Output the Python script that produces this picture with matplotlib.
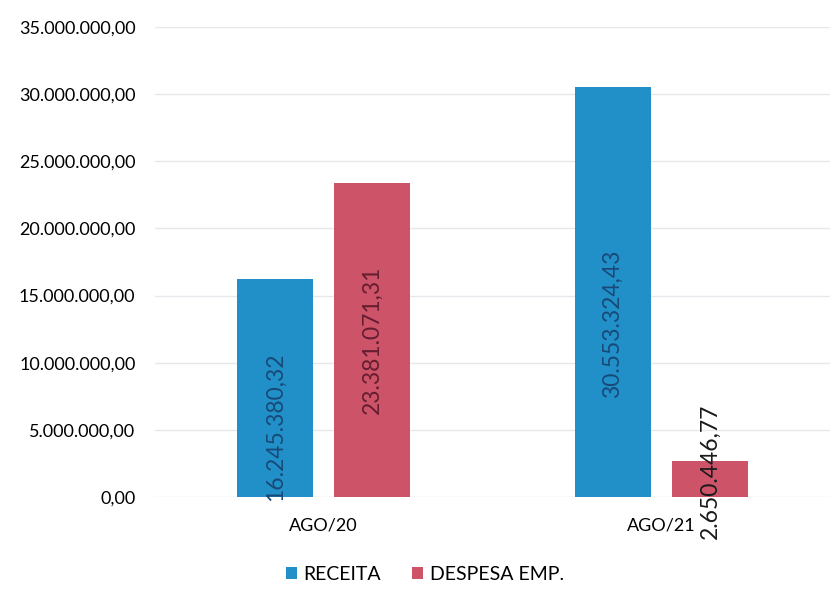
import matplotlib.pyplot as plt
import numpy as np

plt.rcParams["font.family"] = ["Lato", "DejaVu Sans"]

categories = ["AGO/20", "AGO/21"]
receita = [16245380.32, 30553324.43]
despesa = [23381071.31, 2650446.77]
series = ["RECEITA", "DESPESA EMP."]

# where the (hand placed) value labels sit in the source chart
label_y_rec = [5.2e6, 12.9e6]
label_y_desp = [11.7e6, 1.9e6]


def br(v):
    s = f"{v:,.2f}"
    return s.replace(",", "X").replace(".", ",").replace("X", ".")


fig = plt.figure(figsize=(8.37, 6.08), dpi=100)
ax = fig.add_axes([0.185, 0.1826, 0.807, 0.773])

x = np.arange(len(categories))
w = 0.225
off = 0.144
c_rec = "#2190c9"
c_desp = "#cd5369"

ax.bar(x - off, receita, w, color=c_rec, label=series[0], zorder=2)
ax.bar(x + off, despesa, w, color=c_desp, label=series[1], zorder=2)

for i in range(len(categories)):
    ax.text(x[i] - off, label_y_rec[i], br(receita[i]), rotation=90,
            ha="center", va="center", fontsize=16.5, color="#184a78", zorder=3)
    ax.text(x[i] + off, label_y_desp[i], br(despesa[i]), rotation=90,
            ha="center", va="center", fontsize=16.5,
            color="#661d30" if despesa[i] > 5e6 else "#1a1a1a", zorder=3)

ax.set_xlim(-0.5, 1.5)
ax.set_ylim(0, 35e6)
ax.set_yticks(np.arange(0, 35e6 + 1, 5e6))
ax.set_yticklabels([br(v) for v in np.arange(0, 35e6 + 1, 5e6)], fontsize=13)
ax.set_xticks(x)
ax.set_xticklabels(categories, fontsize=13)
ax.tick_params(axis="y", length=0, pad=14)
ax.tick_params(axis="x", length=0, pad=15)
ax.grid(axis="y", color="#e6e8ee", lw=1, zorder=0)
for s in ax.spines.values():
    s.set_visible(False)

ax.legend(loc="upper center", bbox_to_anchor=(0.40, -0.11), ncol=2, frameon=False,
          fontsize=14, handlelength=0.55, handleheight=0.55, handletextpad=0.35,
          columnspacing=1.6)

fig.savefig("out.png", dpi=100)
